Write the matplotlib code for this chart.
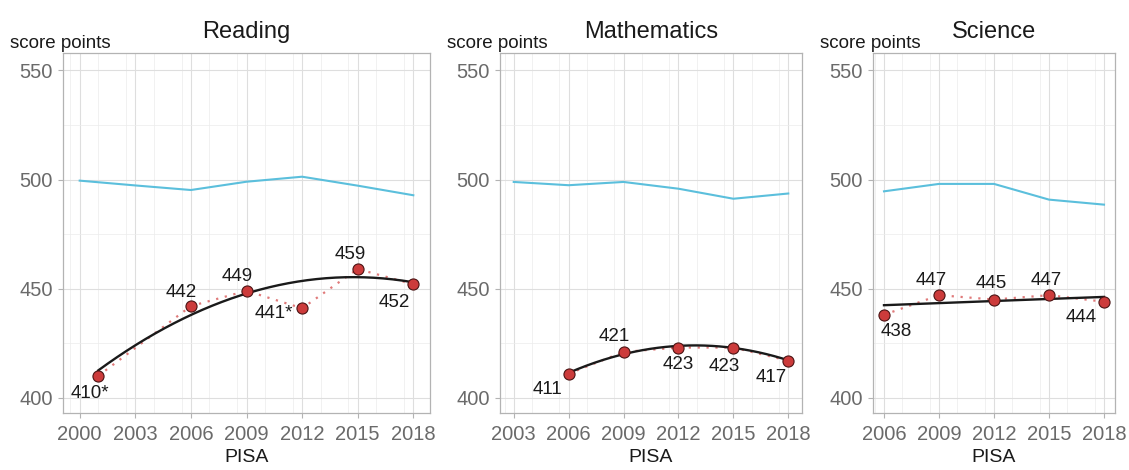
import numpy as np
import matplotlib
matplotlib.use("Agg")
import matplotlib.pyplot as plt
from matplotlib.ticker import MultipleLocator

plt.rcParams["font.family"] = ["Liberation Sans", "DejaVu Sans"]

# Reading
read_years = [2001, 2006, 2009, 2012, 2015, 2018]
read_scores = [410, 442, 449, 441, 459, 452]
read_labels = ["410*", "442", "449", "441*", "459", "452"]
read_trend = [412.3, 438.5, 447.7, 453.0, 455.4, 453.0]
read_oecd_years = [2000, 2003, 2006, 2009, 2012, 2015, 2018]
read_oecd = [499.5, 497.3, 495.2, 499.0, 501.3, 497.2, 492.8]

# Mathematics
math_years = [2006, 2009, 2012, 2015, 2018]
math_scores = [411, 421, 423, 423, 417]
math_labels = ["411", "421", "423", "423", "417"]
math_trend = [411.3, 420.2, 423.6, 422.8, 417.2]
math_oecd_years = [2003, 2006, 2009, 2012, 2015, 2018]
math_oecd = [498.9, 497.4, 498.9, 495.8, 491.2, 493.6]

# Science
sci_years = [2006, 2009, 2012, 2015, 2018]
sci_scores = [438, 447, 445, 447, 444]
sci_labels = ["438", "447", "445", "447", "444"]
sci_trend = [442.4, 443.4, 444.3, 445.3, 446.2]
sci_oecd_years = [2006, 2009, 2012, 2015, 2018]
sci_oecd = [494.6, 498.0, 498.0, 490.8, 488.5]

W, H = 1129, 470
fig = plt.figure(figsize=(W / 100, H / 100), dpi=100)

panels = [
    dict(title="Reading", x0=2000, box=(63, 430), years=read_years, scores=read_scores,
         labels=read_labels, trend=read_trend, oy=read_oecd_years, oecd=read_oecd,
         offs=[(-8, -18), (-10, 14), (-9, 14), (-28, -5), (-7, 15), (-19, -18)]),
    dict(title="Mathematics", x0=2003, box=(500, 802), years=math_years, scores=math_scores,
         labels=math_labels, trend=math_trend, oy=math_oecd_years, oecd=math_oecd,
         offs=[(-21, -16), (-9, 15), (0, -17), (-9, -19), (-17, -17)]),
    dict(title="Science", x0=2006, box=(873, 1115), years=sci_years, scores=sci_scores,
         labels=sci_labels, trend=sci_trend, oy=sci_oecd_years, oecd=sci_oecd,
         offs=[(12, -17), (-8, 15), (-3, 16), (-3, 15), (-23, -16)]),
]

top, bottom = 53, 413
for p in panels:
    l, r = p["box"]
    ax = fig.add_axes([l / W, (H - bottom) / H, (r - l) / W, (bottom - top) / H])
    span = 2018 - p["x0"]
    ax.set_xlim(p["x0"] - span * 0.05, 2018 + span * 0.05)
    ax.set_ylim(393, 558)
    ax.set_xticks(range(p["x0"], 2019, 3))
    ax.set_yticks([400, 450, 500, 550])
    ax.xaxis.set_minor_locator(MultipleLocator(1.5))
    ax.yaxis.set_minor_locator(MultipleLocator(25))
    ax.grid(which="major", color="#dedede", lw=0.8)
    ax.grid(which="minor", color="#ececec", lw=0.5)
    ax.set_axisbelow(True)
    for s in ax.spines.values():
        s.set_color("#b3b3b3")
        s.set_linewidth(0.9)
    ax.tick_params(which="major", length=3.5, color="#b3b3b3", labelsize=14.5,
                   labelcolor="#6a6a6a", pad=4)
    ax.tick_params(axis="x", which="major", pad=5)
    ax.tick_params(which="minor", length=0)

    ax.plot(p["oy"], p["oecd"], color="#5bbfdc", lw=1.5, zorder=2)
    ax.plot(p["years"], p["scores"], color="#e07a7a", lw=1.6, ls=(0, (1, 3)), zorder=3)
    coef = np.polyfit(p["years"], p["trend"], 2)
    xs = np.linspace(p["years"][0], p["years"][-1], 200)
    ax.plot(xs, np.polyval(coef, xs), color="#1a1a1a", lw=1.7, zorder=4)
    ax.plot(p["years"], p["scores"], "o", ms=8, mfc="#cc3b3b", mec="#4a1414", mew=0.8, zorder=5)
    for x, y, t, o in zip(p["years"], p["scores"], p["labels"], p["offs"]):
        ax.annotate(t, (x, y), xytext=o, textcoords="offset pixels", ha="center",
                    va="center", fontsize=13.5, color="#1a1a1a", zorder=6)

    ax.set_title(p["title"], fontsize=17, pad=11, color="#1a1a1a")
    ax.set_xlabel("PISA", fontsize=14, color="#1a1a1a", labelpad=4)
    ax.annotate("score points", (0, 1), xycoords="axes fraction", xytext=(-53, 5),
                textcoords="offset pixels", ha="left", va="baseline", fontsize=13.5,
                color="#1a1a1a")

fig.savefig("out.png", dpi=100)
